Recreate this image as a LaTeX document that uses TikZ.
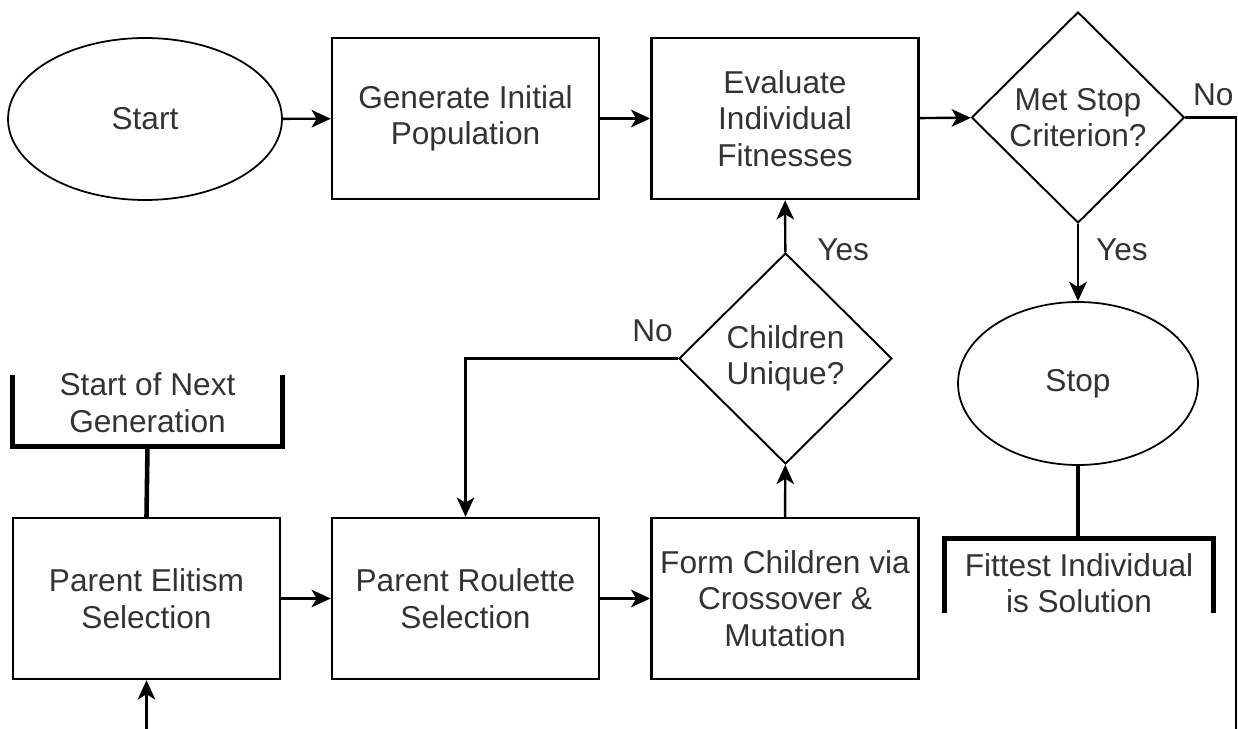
\documentclass[tikz,border=0pt]{standalone}
\usepackage{fontspec}
\setmainfont{Liberation Sans}
\usetikzlibrary{shapes.geometric,arrows.meta}
\tikzset{
  stepbox/.style={draw,line width=1.4pt,minimum width=5.34cm,minimum height=3.22cm,align=center},
  decision/.style={diamond,draw,line width=1.1pt,minimum width=4.26cm,minimum height=4.22cm,inner sep=0pt,align=center},
  terminal/.style={ellipse,draw,line width=1pt,align=center},
  note/.style={align=center,inner sep=0pt},
  bracket/.style={line width=2.6pt},
  flow/.style={line width=1.4pt,-{Stealth[length=11pt,width=10pt,inset=3pt]}},
  plain/.style={line width=1.4pt}
}

\begin{document}
\begin{tikzpicture}[x=0.02cm,y=-0.02cm,every node/.style={font=\fontsize{18}{20.8}\selectfont,text=black!80}]
      \useasboundingbox (0,0) rectangle (1238,729);
      \node[terminal,minimum width=5.48cm,minimum height=3.24cm] (start) at (145,119) {Start};
      \node[stepbox] (init) at (465.5,118.5) {Generate Initial\\Population};
      \node[stepbox] (eval) at (785,118.5) {Evaluate\\Individual\\Fitnesses};
      \node[decision] (stopq) at (1078,117.5) {Met Stop\\Criterion?};
      \node[terminal,minimum width=4.8cm,minimum height=3.26cm] (stop) at (1078,383.5) {Stop};
      \node[note,minimum width=5.36cm,minimum height=1.48cm] (fittest) at (1079,583) {Fittest Individual\\is Solution};
      \node[decision] (unique) at (785.5,358.5) {Children\\Unique?};
      \node[note,minimum width=5.38cm,minimum height=1.42cm] (nextgen) at (147.5,402.5) {Start of Next\\Generation};
      \node[stepbox] (elitism) at (146.5,598.5) {Parent Elitism\\Selection};
      \node[stepbox] (roulette) at (465.5,598.5) {Parent Roulette\\Selection};
      \node[stepbox] (children) at (785,598.5) {Form Children via\\Crossover \&\\Mutation};
      \coordinate (loopright) at (1236,117.5);
      \coordinate (loopbottom) at (1236,729);
      \coordinate (loopin) at (146.5,729);

      \draw[flow] (start) -- (init);
      \draw[flow] (init) -- (eval);
      \draw[flow] (eval) -- (stopq);
      \draw[flow] (stopq) -- node[pos=0.34,right=0.22cm] {Yes} (stop);
      \draw[plain] (stopq.east) -- node[pos=0.55,above=0.1cm] {No} (loopright) -- (loopbottom);
      \draw[flow] (loopin) -- (elitism);
      \draw[flow] (elitism) -- (roulette);
      \draw[flow] (roulette) -- (children);
      \draw[flow] (children) -- (unique);
      \draw[flow] (unique) -- node[pos=0.05,right=0.5cm] {Yes} (eval);
      \draw[flow] (unique.west) -| node[pos=0.06,above=0.2cm] {No} (roulette.north);
      \draw[bracket] (stop.south) -- ([yshift=0.14cm]stop.south |- fittest.north);
      \draw[bracket] ([yshift=0.14cm]fittest.south west) |- ([yshift=0.14cm]fittest.north east) -- ([yshift=0.14cm]fittest.south east);
      \draw[bracket] ([yshift=-0.16cm]nextgen.north west) |- ([yshift=-0.16cm]nextgen.south east) -- ([yshift=-0.16cm]nextgen.north east);
      \draw[bracket] ([yshift=-0.16cm]nextgen.south) -- (elitism.north);
     \end{tikzpicture}
\end{document}
